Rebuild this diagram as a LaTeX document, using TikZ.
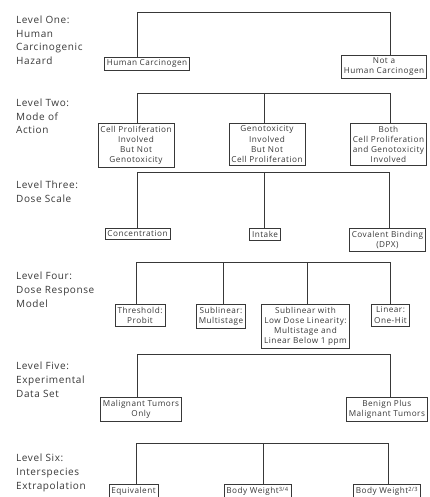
\documentclass[tikz,border=0pt]{standalone}
\usepackage{fontspec}
\setmainfont{Open Sans}[LetterSpace=6]
\usetikzlibrary{positioning}
\definecolor{ink}{gray}{0.22}
\tikzset{
  lvl/.style={anchor=north west, inner sep=0pt, align=left, text=ink,
    font=\fontsize{10}{13.6}\selectfont},
  box/.style={draw=ink, anchor=north, align=center, text=ink, line width=0.6pt,
    inner xsep=2.5pt, inner ysep=2.6pt, font=\fontsize{8.2}{10.2}\selectfont},
  tree/.style={draw=ink, line width=0.6pt}
}

\begin{document}
\begin{tikzpicture}[x=1pt, y=-1pt]
    \useasboundingbox (0,0) rectangle (429,497);
    \clip (0,0) rectangle (429,497);

    \node[lvl] (lv1) at (16,16) {Level One:\\Human\\Carcinogenic\\Hazard};
    \node[lvl] (lv2) at (16,99) {Level Two:\\Mode of\\Action};
    \node[lvl] (lv3) at (16,181) {Level Three:\\Dose Scale};
    \node[lvl] (lv4) at (16,272) {Level Four:\\Dose Response\\Model};
    \node[lvl] (lv5) at (16,362) {Level Five:\\Experimental\\Data Set};
    \node[lvl] (lv6) at (16,454) {Level Six:\\Interspecies\\Extrapolation};

    \node[box] (hc)     at (147,57)   {Human Carcinogen};
    \node[box,anchor=north west] (nhc) at (341,55) {Not a\\Human Carcinogen};

    \node[box] (cp)     at (136,123)  {Cell Proliferation\\Involved\\But Not\\Genotoxicity};
    \node[box] (gt)     at (267,123)  {Genotoxicity\\Involved\\But Not\\Cell Proliferation};
    \node[box,anchor=north west] (both) at (350,123) {Both\\Cell Proliferation\\and Genotoxicity\\Involved};

    \node[box] (conc)   at (137.5,228) {Concentration};
    \node[box] (intake) at (265,228)   {Intake};
    \node[box,anchor=north west] (cov) at (349,228) {Covalent Binding\\(DPX)};

    \node[box] (thr)    at (140,304)   {Threshold:\\Probit};
    \node[box] (sub)    at (221,304)   {Sublinear:\\Multistage};
    \node[box] (sublow) at (305.5,304) {Sublinear with\\Low Dose Linearity:\\Multistage and\\Linear Below 1 ppm};
    \node[box] (lin)    at (390.5,304) {Linear:\\One-Hit};

    \node[box] (mal)    at (141,397)   {Malignant Tumors\\Only};
    \node[box,anchor=north west] (ben) at (346,397) {Benign Plus\\Malignant Tumors};

    \node[box] (eq)     at (133.5,484) {Equivalent};
    \node[box] (bw34)   at (257.5,484) {Body Weight\textsuperscript{3/4}};
    \node[box,anchor=north west] (bw23) at (353,484) {Body Weight\textsuperscript{2/3}};

    \coordinate (t1a) at (137,12);  \coordinate (t1b) at (390,12);
    \coordinate (t2a) at (137,93);  \coordinate (t2m) at (264,93);  \coordinate (t2b) at (390,93);
    \coordinate (t3a) at (137,172); \coordinate (t3m) at (264,172); \coordinate (t3b) at (389,172);
    \coordinate (t4a) at (136,262); \coordinate (t4m) at (223,262); \coordinate (t4n) at (307,262);
    \coordinate (t4b) at (390,262);
    \coordinate (t5a) at (137,354); \coordinate (t5b) at (390,354);
    \coordinate (t6a) at (136,443); \coordinate (t6m) at (263,443); \coordinate (t6b) at (388,443);

    \draw[tree] (t1a |- hc.north) |- (t1b) -- (t1b |- nhc.north);

    \draw[tree] (t2a |- cp.north) |- (t2b) -- (t2b |- both.north);
    \draw[tree] (t2m) -- (t2m |- gt.north);

    \draw[tree] (t3a |- conc.north) |- (t3b) -- (t3b |- cov.north);
    \draw[tree] (t3m) -- (t3m |- intake.north);

    \draw[tree] (t4a |- thr.north) |- (t4b) -- (t4b |- lin.north);
    \draw[tree] (t4m) -- (t4m |- sub.north);
    \draw[tree] (t4n) -- (t4n |- sublow.north);

    \draw[tree] (t5a |- mal.north) |- (t5b) -- (t5b |- ben.north);

    \draw[tree] (t6a |- eq.north) |- (t6b) -- (t6b |- bw23.north);
    \draw[tree] (t6m) -- (t6m |- bw34.north);
\end{tikzpicture}
\end{document}
